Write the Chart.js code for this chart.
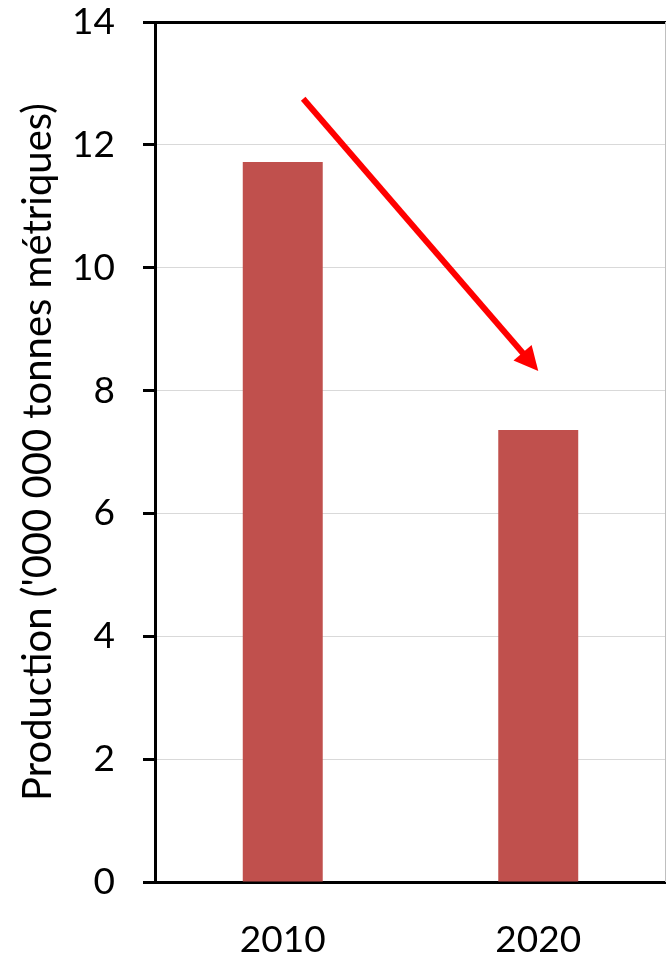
<!DOCTYPE html>
<html>
<head>
<meta charset="utf-8">
<script src="https://cdn.jsdelivr.net/npm/chart.js@4.4.1/dist/chart.umd.min.js"></script>
<style>
  html, body { margin: 0; padding: 0; background: #fff; overflow: hidden; }
</style>
</head>
<body>
<canvas id="chart" width="666" height="957"></canvas>
<script>
// data
const years = ['2010', '2020'];
const production = [11.72, 7.36];
const yTicks = [0, 2, 4, 6, 8, 10, 12, 14];
const axisTitle = "Production ('000 000 tonnes métriques)";
// arrow: [category position, value]
const arrowStart = [0.08, 12.75];
const arrowEnd = [1.0, 8.32];

const font = 'Lato, "Open Sans", sans-serif';

// trend arrow + right border
const arrowPlugin = {
  id: 'arrow',
  afterDatasetsDraw(chart) {
    const { ctx, chartArea, scales: { x, y } } = chart;
    const catX = c => x.getPixelForValue(0) + c * (x.getPixelForValue(1) - x.getPixelForValue(0));

    ctx.save();
    ctx.strokeStyle = '#bfbfbf';
    ctx.lineWidth = 1;
    ctx.beginPath();
    ctx.moveTo(chartArea.right - 0.5, chartArea.top);
    ctx.lineTo(chartArea.right - 0.5, chartArea.bottom);
    ctx.stroke();

    const x1 = catX(arrowStart[0]), y1 = y.getPixelForValue(arrowStart[1]);
    const x2 = catX(arrowEnd[0]), y2 = y.getPixelForValue(arrowEnd[1]);
    const ang = Math.atan2(y2 - y1, x2 - x1);
    const headLen = 24, headW = 12;
    const bx = x2 - headLen * Math.cos(ang), by = y2 - headLen * Math.sin(ang);
    ctx.strokeStyle = '#ff0000';
    ctx.fillStyle = '#ff0000';
    ctx.lineWidth = 6;
    ctx.beginPath();
    ctx.moveTo(x1, y1);
    ctx.lineTo(bx + 2 * Math.cos(ang), by + 2 * Math.sin(ang));
    ctx.stroke();
    ctx.beginPath();
    ctx.moveTo(x2, y2);
    ctx.lineTo(bx + headW * Math.sin(ang), by - headW * Math.cos(ang));
    ctx.lineTo(bx - headW * Math.sin(ang), by + headW * Math.cos(ang));
    ctx.closePath();
    ctx.fill();
    ctx.restore();
  }
};

new Chart(document.getElementById('chart'), {
  type: 'bar',
  data: {
    labels: years,
    datasets: [{
      data: production,
      backgroundColor: '#c0504d',
      borderWidth: 0,
      barPercentage: 0.313,
      categoryPercentage: 1
    }]
  },
  options: {
    responsive: false,
    animation: false,
    layout: { padding: { top: 22, right: 0, left: 0, bottom: 0 } },
    plugins: { legend: { display: false }, tooltip: { enabled: false } },
    scales: {
      x: {
        grid: { display: false },
        border: { color: '#000', width: 3 },
        ticks: { color: '#000', font: { family: font, size: 37 }, padding: 28 },
        afterFit(s) { s.height = 75; s.paddingLeft = 0; s.paddingRight = 0; }
      },
      y: {
        min: 0,
        max: 14,
        afterBuildTicks(s) { s.ticks = yTicks.map(v => ({ value: v })); },
        grid: {
          color: c => c.tick && c.tick.value === 14 ? '#000' : '#d9d9d9',
          lineWidth: c => c.tick && c.tick.value === 14 ? 3 : 1,
          tickColor: '#000',
          tickWidth: 3,
          tickLength: 12
        },
        border: { color: '#000', width: 3 },
        ticks: { color: '#000', font: { family: font, size: 37 }, padding: 28 },
        title: {
          display: true,
          text: axisTitle,
          color: '#000',
          font: { family: font, size: 40 },
          padding: { top: 14, bottom: 0 }
        },
        afterFit(s) { s.width = 155; s.paddingTop = 0; s.paddingBottom = 0; }
      }
    }
  },
  plugins: [arrowPlugin]
});
</script>
</body>
</html>
